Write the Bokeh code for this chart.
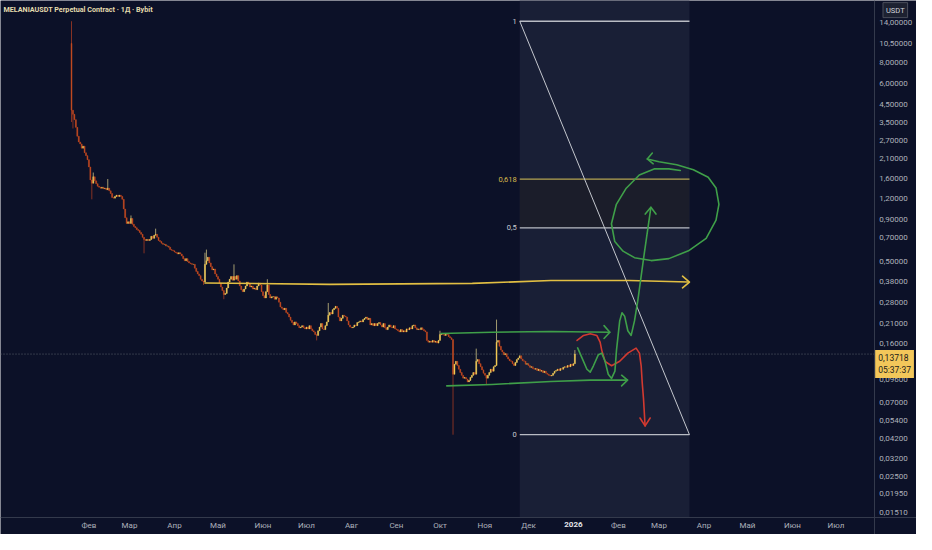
import pandas as pd
from bokeh.plotting import figure
from bokeh.models import Range1d, FixedTicker, CustomJSTickFormatter, Label, BoxAnnotation, ColumnDataSource
from bokeh.core.properties import value
from bokeh.embed import file_html
from bokeh.resources import INLINE

# ---------------- data (daily candles, MELANIAUSDT, 1D) ----------------
first_date = "2025-01-20"
first_open = 10.5
closes_jan25 = [4.13, 3.9, 3.62, 3.25, 2.87, 2.65, 2.58, 2.43, 2.5, 2.28, 2.19, 2.07]
closes_feb25 = [1.87, 1.56, 1.49, 1.63, 1.54, 1.48, 1.43, 1.41, 1.39, 1.41, 1.38, 1.39, 1.36, 1.39,
                1.34, 1.29, 1.22, 1.21, 1.24, 1.26, 1.24, 1.26, 1.24, 1.19, 1.04, 0.92, 0.85, 0.87]
closes_mar25 = [0.85, 0.91, 0.84, 0.815, 0.80, 0.78, 0.77, 0.75, 0.73, 0.70, 0.68, 0.67, 0.68, 0.67,
                0.68, 0.71, 0.69, 0.72, 0.73, 0.70, 0.67, 0.66, 0.645, 0.635, 0.635, 0.62, 0.62, 0.61,
                0.59, 0.585, 0.58]
closes_apr25 = [0.57, 0.565, 0.555, 0.565, 0.555, 0.54, 0.52, 0.505, 0.52, 0.50, 0.49, 0.485, 0.48, 0.48,
                0.455, 0.435, 0.42, 0.41, 0.39, 0.38, 0.375, 0.48, 0.505, 0.53, 0.49, 0.465, 0.445, 0.45,
                0.42, 0.405]
closes_may25 = [0.39, 0.37, 0.35, 0.333, 0.315, 0.32, 0.345, 0.375, 0.39, 0.405, 0.385, 0.405, 0.39, 0.41,
                0.38, 0.355, 0.337, 0.328, 0.34, 0.355, 0.375, 0.365, 0.35, 0.355, 0.34, 0.345, 0.337,
                0.355, 0.37, 0.36, 0.328]
closes_jun25 = [0.31, 0.30, 0.328, 0.36, 0.315, 0.30, 0.305, 0.306, 0.295, 0.305, 0.30, 0.283, 0.265, 0.26,
                0.255, 0.26, 0.245, 0.24, 0.23, 0.22, 0.213, 0.206, 0.215, 0.21, 0.204, 0.198, 0.20, 0.204,
                0.198, 0.195]
closes_jul25 = [0.20, 0.195, 0.204, 0.195, 0.19, 0.187, 0.18, 0.178, 0.19, 0.20, 0.21, 0.195, 0.193, 0.204,
                0.215, 0.236, 0.245, 0.24, 0.255, 0.26, 0.267, 0.26, 0.23, 0.218, 0.226, 0.236, 0.233, 0.23,
                0.218, 0.206, 0.20]
closes_aug25 = [0.198, 0.20, 0.206, 0.204, 0.213, 0.215, 0.218, 0.215, 0.222, 0.226, 0.23, 0.222, 0.226,
                0.206, 0.21, 0.204, 0.21, 0.204, 0.21, 0.213, 0.206, 0.20, 0.21, 0.198, 0.193, 0.20, 0.206,
                0.20, 0.198, 0.204, 0.195]
closes_sep25 = [0.193, 0.19, 0.187, 0.193, 0.187, 0.19, 0.187, 0.195, 0.193, 0.198, 0.195, 0.204, 0.206,
                0.198, 0.193, 0.195, 0.193, 0.198, 0.193, 0.19, 0.187, 0.166, 0.162, 0.164, 0.162, 0.166,
                0.162, 0.164, 0.16, 0.166]
closes_oct25 = [0.18, 0.183, 0.18, 0.178, 0.183, 0.18, 0.175, 0.172, 0.168, 0.1035, 0.119, 0.124, 0.117,
                0.111, 0.106, 0.102, 0.098, 0.099, 0.0967, 0.093, 0.095, 0.099, 0.102, 0.106, 0.1035, 0.124,
                0.127, 0.12, 0.115, 0.11, 0.105]
closes_nov25 = [0.102, 0.098, 0.102, 0.106, 0.111, 0.108, 0.115, 0.117, 0.162, 0.166, 0.153, 0.145, 0.141,
                0.136, 0.138, 0.132, 0.128, 0.125, 0.124, 0.12, 0.117, 0.122, 0.127, 0.13, 0.134, 0.128,
                0.125, 0.124, 0.119, 0.12]
closes_dec25 = [0.117, 0.114, 0.115, 0.112, 0.111, 0.112, 0.109, 0.111, 0.108, 0.109, 0.106, 0.108, 0.105,
                0.1035, 0.102, 0.101, 0.102, 0.105, 0.108, 0.109, 0.111, 0.109, 0.112, 0.111, 0.114, 0.115,
                0.114, 0.117, 0.115, 0.119, 0.117]
closes_jan26 = [0.12, 0.13718]

high_spikes = {"2025-01-20": 14.3, "2025-02-04": 1.73, "2025-02-14": 1.58, "2025-03-02": 0.95,
               "2025-03-19": 0.79, "2025-04-22": 0.565, "2025-04-23": 0.59, "2025-05-12": 0.48,
               "2025-06-04": 0.39, "2025-07-16": 0.28, "2025-10-01": 0.19, "2025-10-26": 0.148,
               "2025-11-09": 0.222, "2026-01-02": 0.145}
low_spikes = {"2025-01-20": 3.5, "2025-01-21": 3.2, "2025-02-03": 1.19, "2025-03-11": 0.56,
              "2025-04-21": 0.36, "2025-05-05": 0.295, "2025-07-08": 0.166, "2025-10-10": 0.0445,
              "2025-11-02": 0.089}

last_price_text = "0,13718"
countdown_text = "05:37:37"

month_tick_dates = ["2025-02-01", "2025-03-01", "2025-04-01", "2025-05-01", "2025-06-01", "2025-07-01",
                    "2025-08-01", "2025-09-01", "2025-10-01", "2025-11-01", "2025-12-01", "2026-01-01",
                    "2026-02-01", "2026-03-01", "2026-04-01", "2026-05-01", "2026-06-01", "2026-07-01"]
month_tick_labels = ["Фев", "Мар", "Апр", "Май", "Июн", "Июл", "Авг", "Сен", "Окт", "Ноя", "Дек", "2026",
                     "Фев", "Мар", "Апр", "Май", "Июн", "Июл"]
price_ticks = [14, 10.5, 8, 6, 4.5, 3.5, 2.7, 2.1, 1.6, 1.2, 0.9, 0.7, 0.5, 0.38, 0.28, 0.21, 0.16,
               0.096, 0.07, 0.054, 0.042, 0.032, 0.025, 0.0195, 0.0151]

# Fibonacci retracement (days since 2025-01-01, prices)
fib_t = [328, 445]
fib_high = 14.3
fib_low = 0.0445
fib_levels = [1, 0.618, 0.5, 0]
fib_level_labels = ["1", "0,618", "0,5", "0"]

# hand drawings (x = days since 2025-01-01, y = price)
yellow_t = [111.0, 197.0, 295.3, 349.5, 403.6, 444.3]
yellow_p = [0.370, 0.363, 0.368, 0.383, 0.383, 0.375]
yellow_head_t = [440.2, 445.0, 440.2]
yellow_head_p = [0.407, 0.375, 0.346]

green_top_t = [273.7, 308.8, 349.5, 390.1]
green_top_p = [0.183, 0.186, 0.188, 0.186]
green_top_head_t = [386.1, 390.1, 386.1]
green_top_head_p = [0.204, 0.186, 0.1706]

green_bot_t = [277.7, 308.8, 349.5, 376.6, 402.3]
green_bot_p = [0.088, 0.0898, 0.0935, 0.0954, 0.0954]
green_bot_head_t = [398.2, 402.3, 398.2]
green_bot_head_p = [0.1021, 0.0954, 0.088]

red_t = [367.5, 372.0, 376.6, 381.1, 383.4, 384.5, 386.8, 391.3, 396.9, 402.5, 408.2, 410.5, 411.7,
         412.4, 413.3, 414.4]
red_p = [0.166, 0.178, 0.182, 0.178, 0.162, 0.145, 0.124, 0.1165, 0.124, 0.139, 0.149, 0.139, 0.1165,
         0.0925, 0.0738, 0.0503]
red_head_t = [410.9, 414.4, 417.9]
red_head_p = [0.0562, 0.0503, 0.0562]

green_wave_t = [367.9, 370.9, 374.3, 376.6, 378.8, 382.2, 384.5, 386.8, 389.0, 391.3, 393.6, 394.7,
                396.9, 398.5, 400.3, 402.5, 404.8, 407.1, 409.3, 413.9, 418.4]
green_wave_p = [0.1496, 0.13, 0.111, 0.1066, 0.1165, 0.136, 0.139, 0.124, 0.1035, 0.0977, 0.1082,
                0.145, 0.218, 0.244, 0.233, 0.19, 0.178, 0.218, 0.286, 0.564, 1.065]
green_wave_head_t = [414.5, 418.4, 421.9]
green_wave_head_p = [0.969, 1.065, 0.969]

circle_t = [438.7, 430.8, 420.6, 410.4, 401.4, 394.6, 391.2, 393.5, 399.2, 407.1, 418.6, 430.8, 444.3,
            456.5, 463.3, 465.3, 463.3, 457.9, 447.7, 436.2, 424.0, 415.9]
circle_p = [1.78, 1.82, 1.82, 1.67, 1.39, 1.11, 0.846, 0.66, 0.577, 0.527, 0.506, 0.52, 0.58, 0.69,
            0.89, 1.11, 1.395, 1.62, 1.80, 1.93, 2.01, 2.09]
circle_head_t = [419.4, 415.9, 420.0]
circle_head_p = [2.27, 2.09, 1.955]

# chart window: visible days / prices, and where the two scales sit
view_t = [-29.95, 601.5]
view_p = [0.01105, 19.1]
price_scale_at_t = 572.4
time_scale_at_p = 0.01392

# ---------------- build candles ----------------
closes = (closes_jan25 + closes_feb25 + closes_mar25 + closes_apr25 + closes_may25 + closes_jun25 +
          closes_jul25 + closes_aug25 + closes_sep25 + closes_oct25 + closes_nov25 + closes_dec25 +
          closes_jan26)
epoch = pd.Timestamp("2025-01-01")
dates = pd.date_range(first_date, periods=len(closes), freq="D")
t = [(d - epoch).days for d in dates]
opens = [first_open] + closes[:-1]
highs, lows = [], []
for d, o, c in zip(dates, opens, closes):
    key = d.strftime("%Y-%m-%d")
    highs.append(high_spikes.get(key, max(o, c)))
    lows.append(low_spikes.get(key, min(o, c)))

UP, DOWN = "#f2c955", "#bf4a22"
UPW, DOWNW = "#a39b70", "#853224"
up = [c >= o for o, c in zip(opens, closes)]
src = ColumnDataSource(dict(
    t=t, top=[max(o, c) for o, c in zip(opens, closes)], bottom=[min(o, c) for o, c in zip(opens, closes)],
    high=highs, low=lows,
    color=[UP if u else DOWN for u in up], wcolor=[UPW if u else DOWNW for u in up]))

BG = "#0c1128"
p = figure(width=916, height=534, x_range=Range1d(*view_t), y_range=Range1d(*view_p),
           y_axis_type="log", y_axis_location="right", output_backend="svg", toolbar_location=None,
           min_border=0)
p.background_fill_color = BG
p.border_fill_color = BG
p.outline_line_color = None
p.grid.visible = False

FONT = "Roboto"
AX = "#343a4c"
p.yaxis.fixed_location = price_scale_at_t
p.xaxis.fixed_location = time_scale_at_p
p.yaxis.ticker = FixedTicker(ticks=price_ticks, minor_ticks=[])
p.yaxis.formatter = CustomJSTickFormatter(code="return tick.toFixed(5).replace('.', ',');")
for ax in (p.yaxis[0], p.xaxis[0]):
    ax.axis_line_color = AX
    ax.major_tick_line_color = None
    ax.minor_tick_line_color = None
    ax.major_tick_out = 0
    ax.major_tick_in = 0
    ax.minor_tick_out = 0
    ax.minor_tick_in = 0
    ax.major_label_text_color = "#aeb1bb"
    ax.major_label_text_font = FONT
    ax.major_label_text_font_size = "8px"
p.yaxis.major_label_standoff = 5
tick_t = [(pd.Timestamp(d) - epoch).days for d in month_tick_dates]
p.xaxis.ticker = FixedTicker(ticks=tick_t, minor_ticks=[])
p.xaxis.major_label_overrides = {tt: (" " if lab == "2026" else lab) for tt, lab in zip(tick_t, month_tick_labels)}
p.xaxis.major_label_standoff = 3
for tt, lab in zip(tick_t, month_tick_labels):
    if lab == "2026":
        p.add_layout(Label(x=tt, y=0.01262, text=lab, text_align="center", text_baseline="middle",
                           text_font=FONT, text_font_size="8px", text_font_style="bold",
                           text_color="#e3e5ea"))

# fib background column and 0.5-0.618 band
level_price = [fib_low * (fib_high / fib_low) ** lv for lv in fib_levels]
p.add_layout(BoxAnnotation(left=fib_t[0], right=fib_t[1], bottom=time_scale_at_p, fill_color="#191f36",
                           fill_alpha=1.0, line_color=None, level="underlay"))
p.add_layout(BoxAnnotation(left=fib_t[0], right=fib_t[1], bottom=level_price[2], top=level_price[1],
                           fill_color="#1b1d2a", fill_alpha=1.0, line_color=None, level="underlay"))

# last price line
p.segment(x0=[view_t[0]], x1=[price_scale_at_t], y0=[closes[-1]], y1=[closes[-1]],
          line_color="#5b5f6b", line_width=1, line_dash="1 2")

# fib level lines and labels
fib_colors = ["#b9bcc4", "#b4a452", "#b9bcc4", "#b9bcc4"]
fib_text_colors = ["#c9ccd3", "#d9b94c", "#c9ccd3", "#c9ccd3"]
p.segment(x0=[fib_t[0]] * 4, x1=[fib_t[1]] * 4, y0=level_price, y1=level_price,
          line_color=fib_colors, line_width=1.3)
p.text(x=[fib_t[0]] * 4, y=level_price, text=fib_level_labels, text_align="right", text_baseline="middle",
       x_offset=-3, text_font=value(FONT), text_font_size="7.5px", text_color=fib_text_colors)
p.line([fib_t[0], fib_t[1]], [fib_high, fib_low], line_color="#c4c7ce", line_width=1)

# candles
p.segment(x0="t", x1="t", y0="low", y1="high", line_color="wcolor", line_width=1, source=src)
p.vbar(x="t", width=0.72, top="top", bottom="bottom", fill_color="color", line_color="color",
       line_width=0.4, source=src)

# drawings
YEL, GRN, RED = "#e2bf43", "#3f9f49", "#d23a30"
for xs, ys, col in [(yellow_t, yellow_p, YEL), (yellow_head_t, yellow_head_p, YEL),
                    (green_top_t, green_top_p, GRN), (green_top_head_t, green_top_head_p, GRN),
                    (green_bot_t, green_bot_p, GRN), (green_bot_head_t, green_bot_head_p, GRN),
                    (red_t, red_p, RED), (red_head_t, red_head_p, RED),
                    (green_wave_t, green_wave_p, GRN), (green_wave_head_t, green_wave_head_p, GRN),
                    (circle_t, circle_p, GRN), (circle_head_t, circle_head_p, GRN)]:
    p.line(xs, ys, line_color=col, line_width=1.6, line_join="round", line_cap="round")

# title
p.add_layout(Label(x=-27.9, y=16.9, text="MELANIAUSDT Perpetual Contract · 1Д · Bybit", text_font=FONT,
                   text_font_size="7.2px", text_font_style="bold", text_color="#e4dcae",
                   text_baseline="middle", text_align="left"))
# currency box
p.add_layout(Label(x=578.4, y=16.7, text="USDT", text_font=FONT, text_font_size="7.5px",
                   text_color="#d1d4dc", text_baseline="middle", text_align="left",
                   background_fill_color="#1d2131", border_line_color="#4a4e5c", padding=3))
# last price box
p.add_layout(Label(x=573.0, y=0.1453, text=last_price_text + "\n" + countdown_text, text_font=FONT,
                   text_font_size="8.5px", text_color="#1b1b1b", text_baseline="top", text_align="left",
                   background_fill_color="#f3c75a", padding=3))

open("out.html", "w").write(file_html(p, INLINE))
